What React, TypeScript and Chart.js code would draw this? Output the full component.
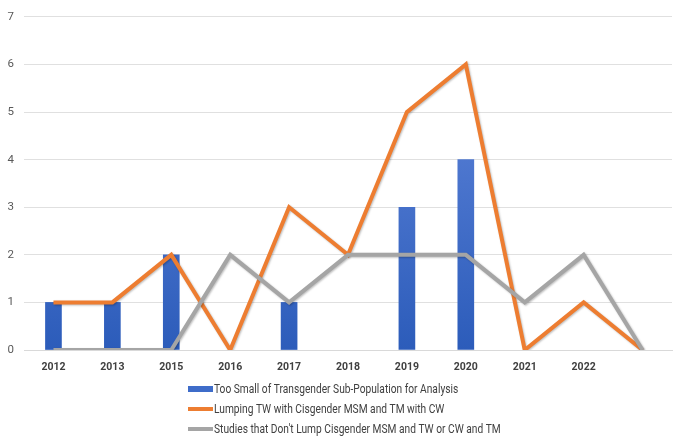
import React, { useEffect, useRef } from "react";
import { Chart, registerables } from "chart.js";

Chart.register(...registerables);

const categories = ["2012", "2013", "2015", "2016", "2017", "2018", "2019", "2020", "2021", "2022", ""];
const tooSmall = [1, 1, 2, 0, 1, 0, 3, 4, 0, 0, null];
const lumping = [1, 1, 2, 0, 3, 2, 5, 6, 0, 1, 0];
const notLump = [0, 0, 0, 2, 1, 2, 2, 2, 1, 2, 0];
const seriesLabels = [
  "Too Small of Transgender Sub-Population for Analysis",
  "Lumping TW with Cisgender MSM and TM with CW",
  "Studies that Don't Lump Cisgender MSM and TW or CW and TM",
];

const FONT = "Roboto, 'Liberation Sans', sans-serif";

const legendPlugin = {
  id: "vertLegend",
  afterDraw(chart: any) {
    const ctx = chart.ctx;
    const x0 = 188;
    const ys = [389, 409, 429];
    const colors = ["#3e6cc9", "#ED7D31", "#A5A5A5"];
    ctx.save();
    seriesLabels.forEach((lab, i) => {
      const y = ys[i];
      if (i === 0) {
        ctx.fillStyle = colors[0];
        ctx.fillRect(x0, y - 3, 25, 6);
      } else {
        ctx.fillStyle = colors[i];
        ctx.fillRect(x0, y - 2, 25, 4);
      }
      ctx.save();
      ctx.translate(x0 + 26, y + 0.5);
      ctx.scale(0.785, 1);
      ctx.fillStyle = "#404040";
      ctx.font = "13px " + FONT;
      ctx.textBaseline = "middle";
      ctx.textAlign = "left";
      ctx.fillText(lab, 0, 0);
      ctx.restore();
    });
    ctx.restore();
  },
};

const shadowPlugin = {
  id: "lineShadow",
  beforeDatasetDraw(chart: any, args: any) {
    if (args.meta.type === "line") {
      const ctx = chart.ctx;
      ctx.save();
      ctx.shadowColor = "rgba(0,0,0,0.25)";
      ctx.shadowBlur = 2;
      ctx.shadowOffsetX = 1;
      ctx.shadowOffsetY = 1;
    }
  },
  afterDatasetDraw(chart: any, args: any) {
    if (args.meta.type === "line") chart.ctx.restore();
  },
};

export default function App() {
  const ref = useRef<HTMLCanvasElement | null>(null);
  useEffect(() => {
    if (!ref.current) return;
    const chart = new Chart(ref.current, {
      type: "bar",
      data: {
        labels: categories,
        datasets: [
          {
            type: "line",
            label: seriesLabels[2],
            data: notLump,
            borderColor: "#A5A5A5",
            borderWidth: 4,
            pointRadius: 0,
            tension: 0,
            fill: false,
            order: 1,
          },
          {
            type: "line",
            label: seriesLabels[1],
            data: lumping,
            borderColor: "#ED7D31",
            borderWidth: 4,
            pointRadius: 0,
            tension: 0,
            fill: false,
            order: 2,
          },
          {
            type: "bar",
            label: seriesLabels[0],
            data: tooSmall as any,
            barThickness: 16,
            order: 3,
            backgroundColor: (c: any) => {
              const v = c.raw;
              if (!v) return "rgba(0,0,0,0)";
              const area = c.chart.chartArea;
              if (!area) return "#3e6cc9";
              const g = c.chart.ctx.createLinearGradient(0, area.top, 0, area.bottom);
              g.addColorStop(0, "#6f8fd6");
              g.addColorStop(0.4, "#4f78d0");
              g.addColorStop(1, "#2c5cba");
              return g;
            },
          },
        ],
      },
      options: {
        animation: false,
        responsive: true,
        maintainAspectRatio: false,
        layout: { padding: { top: 15, right: 13, left: 0, bottom: 0 } },
        plugins: { legend: { display: false }, tooltip: { enabled: false } },
        scales: {
          x: {
            offset: true,
            grid: { display: false },
            border: { display: true, color: "#d9d9d9", width: 1 },
            ticks: {
              color: "#404040",
              font: { family: FONT, size: 10.5, weight: "bold" },
              padding: 3,
              maxRotation: 0,
              autoSkip: false,
            },
            afterFit: (s: any) => {
              s.height = 93;
            },
          },
          y: {
            min: 0,
            max: 7,
            ticks: {
              stepSize: 1,
              color: "#595959",
              font: { family: FONT, size: 11.5 },
              padding: 10,
            },
            grid: { color: "#e0e0e0", lineWidth: 1, drawTicks: false },
            border: { display: false },
            afterFit: (s: any) => {
              s.width = 24;
            },
          },
        },
      },
      plugins: [shadowPlugin, legendPlugin],
    });
    return () => chart.destroy();
  }, []);
  return (
    <div style={{ position: "absolute", left: 0, top: 0, width: 685, height: 443, background: "#fff" }}>
      <canvas ref={ref} />
    </div>
  );
}
